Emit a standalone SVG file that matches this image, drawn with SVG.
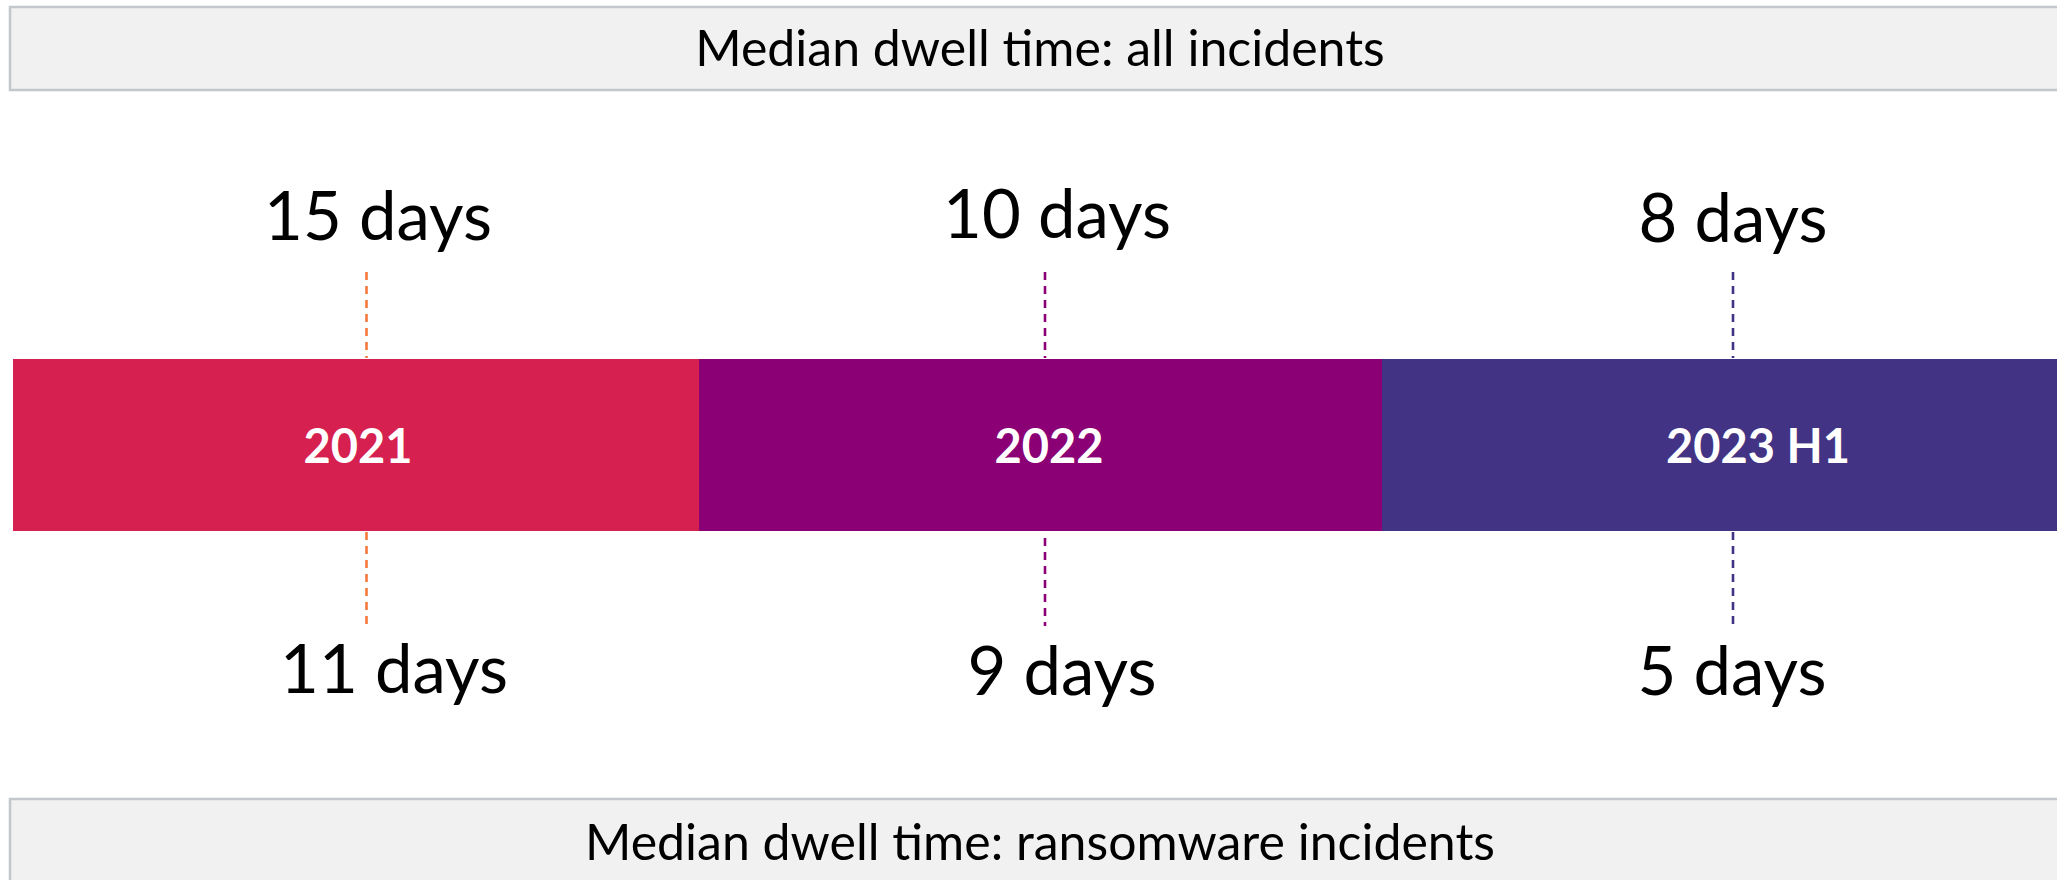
<svg xmlns="http://www.w3.org/2000/svg" width="2057" height="880" viewBox="0 0 2057 880">
<style>
.banner{fill:#f1f1f1;stroke:#c3c6cb;stroke-width:2.5}
.btxt{font-family:Lato,"Open Sans",sans-serif;font-size:50px;fill:#000;text-anchor:middle}
.val{font-family:Lato,"Open Sans",sans-serif;font-size:67px;fill:#000;text-anchor:middle}
.yr{font-family:Lato,"Open Sans",sans-serif;font-size:47px;font-weight:bold;fill:#fff;text-anchor:middle}
.dash{stroke-width:2.6;stroke-dasharray:8 6;fill:none}
</style>
<rect width="2057" height="880" fill="#fff"/>
<g id="banner-top">
<rect class="banner" x="10" y="7" width="2070" height="83"/>
<text class="btxt" x="1040" y="66">Median dwell time: all incidents</text>
</g>
<g id="banner-bottom">
<rect class="banner" x="10" y="799" width="2070" height="100"/>
<text class="btxt" x="1040" y="860">Median dwell time: ransomware incidents</text>
</g>
<g id="seg-2021">
<rect x="13" y="359" width="687" height="172" fill="#d6204f"/>
<text class="yr" x="358" y="463">2021</text>
</g>
<g id="seg-2022">
<rect x="699" y="359" width="684" height="172" fill="#8b0075"/>
<text class="yr" x="1049" y="463">2022</text>
</g>
<g id="seg-2023">
<rect x="1382" y="359" width="675" height="172" fill="#423384"/>
<text class="yr" x="1758" y="463">2023 H1</text>
</g>
<g id="connectors">
<line class="dash" x1="366.5" y1="272" x2="366.5" y2="358" stroke="#f4793b"/>
<line class="dash" x1="366.5" y1="532" x2="366.5" y2="624" stroke="#f4793b"/>
<line class="dash" x1="1045" y1="272" x2="1045" y2="358" stroke="#8b0075"/>
<line class="dash" x1="1045" y1="538" x2="1045" y2="626" stroke="#8b0075"/>
<line class="dash" x1="1733" y1="272" x2="1733" y2="358" stroke="#423384"/>
<line class="dash" x1="1733" y1="532" x2="1733" y2="628" stroke="#423384"/>
</g>
<g id="values-all">
<text class="val" x="378" y="240">15 days</text>
<text class="val" x="1057" y="238">10 days</text>
<text class="val" x="1733" y="242">8 days</text>
</g>
<g id="values-ransomware">
<text class="val" x="394" y="693">11 days</text>
<text class="val" x="1062" y="695">9 days</text>
<text class="val" x="1732" y="695">5 days</text>
</g>
</svg>
